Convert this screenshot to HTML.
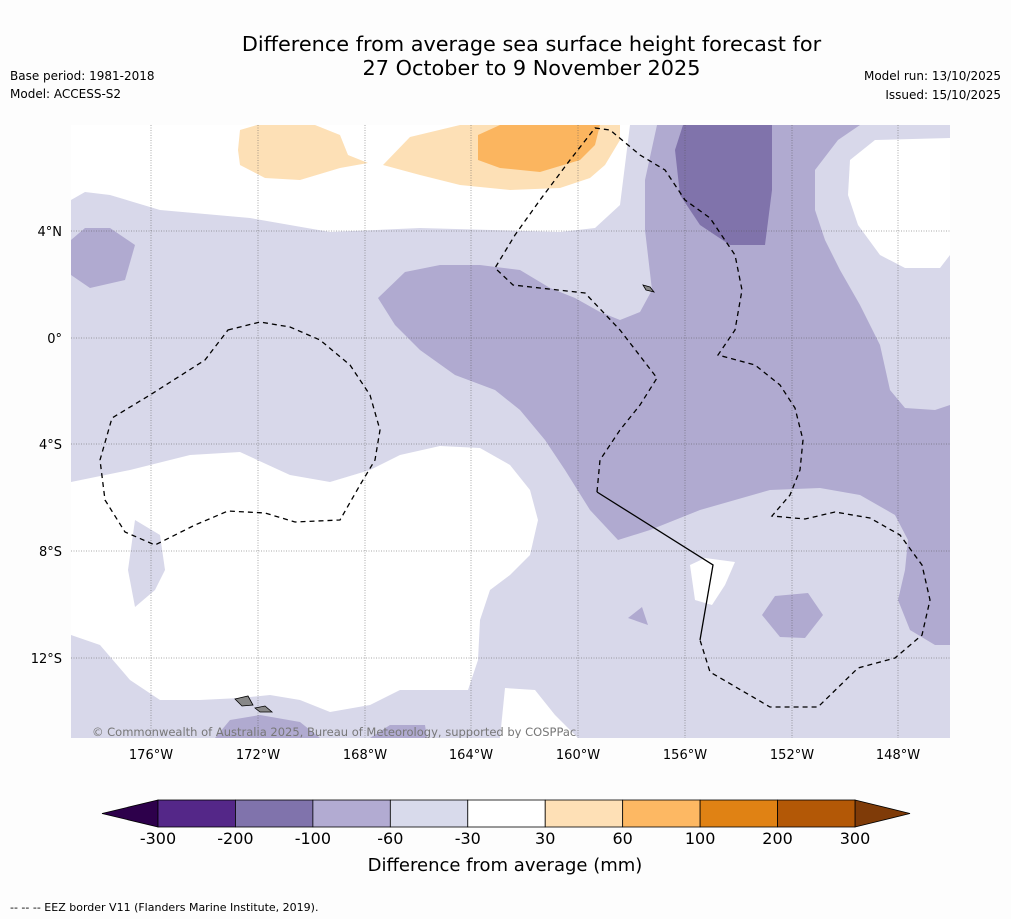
<!DOCTYPE html>
<html><head><meta charset="utf-8">
<style>
body{margin:0;background:#fdfdfd;font-family:"DejaVu Sans","Liberation Sans",sans-serif;}
#wrap{position:relative;width:1011px;height:919px;overflow:hidden;background:#fdfdfd;}
.t{position:absolute;color:#000;white-space:nowrap;}
</style></head>
<body>
<div id="wrap">
<div class="t" style="left:0;width:1063px;top:32px;text-align:center;font-size:20.8px;line-height:24px;">Difference from average sea surface height forecast for<br>27 October to 9 November 2025</div>
<div class="t" style="left:10px;top:69px;font-size:12px;">Base period: 1981-2018</div>
<div class="t" style="left:10px;top:87px;font-size:12px;">Model: ACCESS-S2</div>
<div class="t" style="right:10px;top:69px;font-size:12px;">Model run: 13/10/2025</div>
<div class="t" style="right:10px;top:88px;font-size:12px;">Issued: 15/10/2025</div>
<svg id="map" width="1011" height="919" style="position:absolute;left:0;top:0;font-family:'DejaVu Sans','Liberation Sans',sans-serif">
<defs><clipPath id="mc"><rect x="71" y="125" width="879" height="613"/></clipPath></defs>
<g clip-path="url(#mc)">
<rect x="71" y="125" width="879" height="613" fill="#d8d8ea"/>
<g fill="#ffffff">
<polygon points="71,125 630,125 620,205 595,228 560,232 420,228 330,232 250,218 160,210 110,195 85,192 71,200"/>
<polygon points="71,482 130,470 190,455 240,452 290,475 330,482 370,470 400,455 440,446 480,448 510,465 530,490 538,520 530,555 510,575 490,590 480,620 478,660 468,690 400,690 370,705 330,712 300,700 270,695 240,698 200,700 160,700 130,680 100,645 71,635"/>
<polygon points="500,738 505,688 535,690 555,715 578,738"/>
<polygon points="690,565 705,558 735,562 725,585 712,605 695,600"/>
<polygon points="850,160 875,140 950,138 950,255 940,268 905,268 880,255 858,225 848,195"/>
</g>
<polygon fill="#d8d8ea" points="135,520 160,535 165,570 155,590 135,607 128,570"/>
<g fill="#b0aad0">
<polygon points="657,125 645,180 645,230 652,290 640,312 620,320 600,312 575,298 550,288 520,270 480,265 440,265 405,272 378,298 395,325 420,350 455,375 495,390 520,410 545,440 565,470 590,510 618,540 650,530 700,510 770,490 820,488 860,495 895,515 908,540 905,570 898,600 910,630 935,645 950,645 950,405 935,410 905,408 890,390 880,345 860,305 840,270 825,240 815,210 815,170 838,140 860,125"/>
<polygon points="71,240 85,228 110,228 135,245 125,280 90,288 71,275"/>
<polygon points="215,738 230,720 260,715 300,722 320,738"/>
<polygon points="370,738 390,725 425,725 427,738"/>
<polygon points="762,615 775,596 808,593 823,615 805,638 780,637"/>
<polygon points="628,618 642,607 648,625"/>
</g>
<polygon fill="#8073ab" points="683,125 772,125 772,190 765,245 730,245 700,225 680,195 675,150"/>
<g fill="#fde0b6">
<polygon points="240,130 257,125 315,125 340,135 348,155 368,163 340,168 300,180 265,178 240,165 238,150"/>
<polygon points="383,165 410,137 460,125 620,125 620,140 605,165 590,178 560,188 510,190 460,185 420,175"/>
</g>
<polygon fill="#fbb55f" points="478,135 500,125 600,125 595,145 580,160 540,172 500,168 478,160"/>
<g stroke="#555" stroke-width="0.5" stroke-dasharray="1,1.5">
<line x1="151" y1="125" x2="151" y2="738"/><line x1="258" y1="125" x2="258" y2="738"/><line x1="365" y1="125" x2="365" y2="738"/><line x1="471" y1="125" x2="471" y2="738"/><line x1="578" y1="125" x2="578" y2="738"/><line x1="685" y1="125" x2="685" y2="738"/><line x1="792" y1="125" x2="792" y2="738"/><line x1="898" y1="125" x2="898" y2="738"/>
<line x1="71" y1="231" x2="950" y2="231"/><line x1="71" y1="338" x2="950" y2="338"/><line x1="71" y1="444" x2="950" y2="444"/><line x1="71" y1="551" x2="950" y2="551"/><line x1="71" y1="658" x2="950" y2="658"/>
</g>
<g fill="none" stroke="#000" stroke-width="1.3">
<polyline stroke-dasharray="5,4" points="597,492 600,460 620,430 640,405 657,378 620,330 585,293 513,285 495,268 515,235 540,200 570,160 595,128 610,130 640,155 665,170 685,200 710,218 735,255 742,290 735,330 718,355 755,365 780,385 795,408 803,440 800,470 790,495 772,516 805,519 835,512 870,518 900,535 922,565 930,600 922,635 895,658 858,668 818,707 770,707 710,672 700,640"/>
<polyline points="597,492 713,565 700,640"/>
<polygon stroke-dasharray="5,4" points="228,330 260,322 290,327 320,340 350,365 370,395 380,430 375,460 360,485 340,520 295,522 265,513 228,511 195,525 155,545 125,532 105,500 100,460 112,418 150,395 205,360"/>
</g>
<g fill="#888" stroke="#000" stroke-width="0.8">
<polygon points="235,699 248,696 253,705 242,706"/><polygon points="255,708 265,706 272,712 260,712"/>
<polygon points="643,285 650,287 654,292 646,290"/>
</g>
<text x="92" y="736" font-size="11.5" fill="#777">© Commonwealth of Australia 2025, Bureau of Meteorology, supported by COSPPac</text>
</g>
<g font-size="13" fill="#000">
<text x="62" y="236" text-anchor="end">4°N</text><text x="62" y="343" text-anchor="end">0°</text><text x="62" y="449" text-anchor="end">4°S</text><text x="62" y="556" text-anchor="end">8°S</text><text x="62" y="663" text-anchor="end">12°S</text>
<text x="151" y="759" text-anchor="middle">176°W</text><text x="258" y="759" text-anchor="middle">172°W</text><text x="365" y="759" text-anchor="middle">168°W</text><text x="471" y="759" text-anchor="middle">164°W</text><text x="578" y="759" text-anchor="middle">160°W</text><text x="685" y="759" text-anchor="middle">156°W</text><text x="792" y="759" text-anchor="middle">152°W</text><text x="898" y="759" text-anchor="middle">148°W</text>
</g>
<g id="cbar"></g>
<text x="505" y="871" font-size="18" text-anchor="middle">Difference from average (mm)</text>
<text x="10" y="911" font-size="11">--  --  -- EEZ border V11 (Flanders Marine Institute, 2019).</text>
</svg>
</div>
<script>
const levels=[-300,-200,-100,-60,-30,30,60,100,200,300];
const colors=["#542788","#8073ac","#b2abd2","#d8daeb","#ffffff","#fee0b6","#fdb863","#e08214","#b35806"];
const extendColors=["#2d004b","#7f3b08"];
const NS="http://www.w3.org/2000/svg";
const g=document.getElementById('cbar');
const x0=158,x1=855,y0=800,h=27;
const w=(x1-x0)/colors.length;
function mk(tag,attrs){const e=document.createElementNS(NS,tag);for(const k in attrs)e.setAttribute(k,attrs[k]);g.appendChild(e);return e;}
const lt=mk('polygon',{points:`${x0},${y0} ${x0},${y0+h} 102,${y0+h/2}`,fill:extendColors[0],stroke:'#000','stroke-width':0.8});


const rt=mk('polygon',{points:`${x1},${y0} ${x1},${y0+h} 910,${y0+h/2}`,fill:extendColors[1],stroke:'#000','stroke-width':0.8});


colors.forEach((c,i)=>{
 const r=mk('rect',{x:x0+i*w,y:y0,width:w,height:h,fill:c,stroke:'#000','stroke-width':0.8});
 
 
});
levels.forEach((v,i)=>{
 const t=mk('text',{x:x0+i*w,y:844,'font-size':16,'text-anchor':'middle'});
 t.textContent=v;
 
 
});
</script>
</body></html>
